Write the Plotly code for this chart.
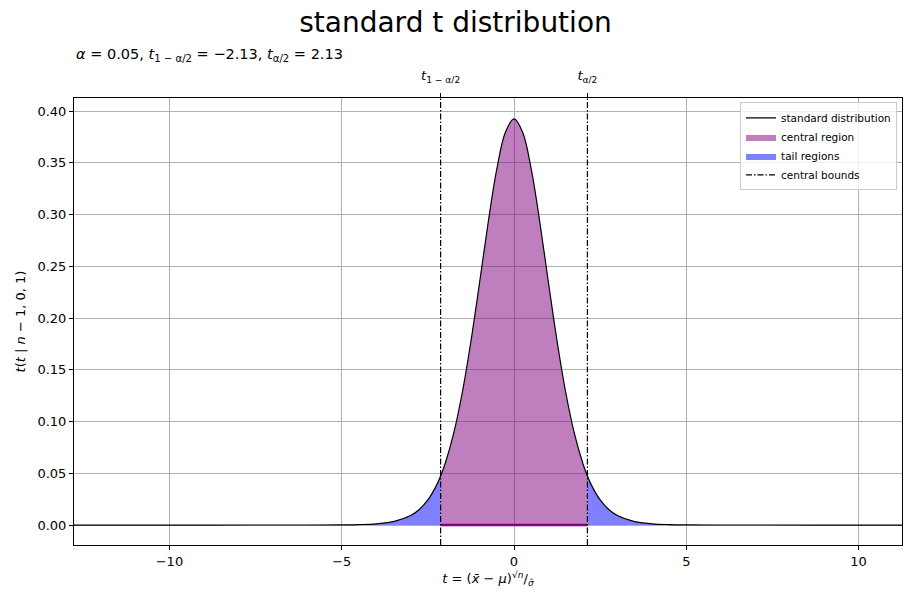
import numpy as np
import plotly.graph_objects as go

# valores (t de Student, alpha = 0.05)
t_vals = [-13, -9, -7, -6, -5, -4.5, -4, -3.5, -3, -2.75, -2.5, -2.25, -2.13,
          -2, -1.75, -1.5, -1.25, -1, -0.75, -0.5, -0.25, 0,
          0.25, 0.5, 0.75, 1, 1.25, 1.5, 1.75, 2,
          2.13, 2.25, 2.5, 2.75, 3, 3.5, 4, 4.5, 5, 6, 7, 9, 12]
pdf_vals = [0, 0, 0.00001, 0.00002, 0.00015, 0.00042, 0.00118, 0.00331, 0.00913, 0.0150, 0.0242, 0.0383, 0.0474,
            0.0592, 0.0888, 0.1283, 0.1776, 0.2341, 0.2923, 0.3438, 0.3795, 0.3924,
            0.3795, 0.3438, 0.2923, 0.2341, 0.1776, 0.1283, 0.0888, 0.0592,
            0.0474, 0.0383, 0.0242, 0.0150, 0.00913, 0.00331, 0.00118, 0.00042, 0.00015, 0.00002, 0.00001, 0, 0]
alpha = 0.05
t_low = -2.13
t_high = 2.13

x_range = [-12.77, 11.26]
y_range = [-0.0193, 0.4126]
y_ticks = [0, 0.05, 0.10, 0.15, 0.20, 0.25, 0.30, 0.35, 0.40]

t = np.array(t_vals)
p = np.array(pdf_vals)
central = (t >= t_low) & (t <= t_high)
left = t <= t_low
right = t >= t_high

fig = go.Figure()

# región central
fig.add_trace(go.Scatter(
    x=t[central], y=p[central], mode='lines', fill='tozeroy',
    fillcolor='rgba(128,0,128,0.5)', line=dict(width=0, shape='spline'),
    name='central region', legendrank=2
))
# colas
fig.add_trace(go.Scatter(
    x=t[left], y=p[left], mode='lines', fill='tozeroy',
    fillcolor='rgba(0,0,255,0.5)', line=dict(width=0, shape='spline'),
    name='tail regions', legendgroup='tails', legendrank=3
))
fig.add_trace(go.Scatter(
    x=t[right], y=p[right], mode='lines', fill='tozeroy',
    fillcolor='rgba(0,0,255,0.5)', line=dict(width=0, shape='spline'),
    name='tail regions', legendgroup='tails', showlegend=False
))
# borde inferior de la región central
fig.add_trace(go.Scatter(
    x=[t_low, t_high], y=[0, 0], mode='lines',
    line=dict(color='purple', width=2.5), showlegend=False, hoverinfo='skip'
))
# curva
fig.add_trace(go.Scatter(
    x=t, y=p, mode='lines', line=dict(color='black', width=1.2, shape='spline'),
    name='standard distribution', legendrank=1
))
# límites centrales
fig.add_trace(go.Scatter(
    x=[t_low, t_low, None, t_high, t_high],
    y=[y_range[0], y_range[1], None, y_range[0], y_range[1]],
    mode='lines', line=dict(color='black', width=1.2, dash='6px,2px,1.5px,2px'),
    name='central bounds', legendrank=4, xaxis='x2'
))

fig.update_layout(
    width=911, height=611,
    margin=dict(l=74, r=9, t=98, b=66),
    plot_bgcolor='white', paper_bgcolor='white',
    font=dict(family='DejaVu Sans', size=13, color='black'),
    title=dict(text='standard t distribution', x=0.5, xanchor='center',
               y=1 - 22 / 611, yanchor='middle', yref='container',
               font=dict(size=28)),
    showlegend=True,
    legend=dict(x=0.994, y=0.99, xanchor='right', yanchor='top',
                bgcolor='rgba(255,255,255,0.8)', bordercolor='#cccccc', borderwidth=1,
                font=dict(size=10.5), tracegroupgap=0, itemwidth=30),
    xaxis=dict(range=x_range, tickvals=[-10, -5, 0, 5, 10], automargin=False,
               showgrid=True, gridcolor='#b0b0b0', gridwidth=0.8, zeroline=False,
               showline=True, linecolor='black', linewidth=1, mirror=True,
               ticks='outside', ticklen=4, tickcolor='black',
               title=dict(text='<i>t</i> = (<i>x̄</i> − <i>μ</i>)<sup>√<i>n</i></sup>/<sub><i>σ̂</i></sub>',
                          font=dict(size=13), standoff=6)),
    xaxis2=dict(range=x_range, overlaying='x', side='top', anchor='y', automargin=False,
                tickvals=[t_low, t_high],
                ticktext=['<i>t</i><sub>1 − α/2</sub>', '<i>t</i><sub>α/2</sub>'],
                showgrid=False, zeroline=False, showline=False,
                ticks='outside', ticklen=4, tickcolor='black', tickfont=dict(size=13),
                ticklabelstandoff=8),
    yaxis=dict(range=y_range, tickvals=y_ticks, tickformat='.2f', automargin=False,
               showgrid=True, gridcolor='#b0b0b0', gridwidth=0.8, zeroline=False,
               showline=True, linecolor='black', linewidth=1, mirror=True,
               ticks='outside', ticklen=4, tickcolor='black',
               title=dict(text='<i>t</i>(<i>t</i> | <i>n</i> − 1, 0, 1)', font=dict(size=13), standoff=8)),
)

fig.add_annotation(
    text='<i>α</i> = 0.05, <i>t</i><sub>1 − α/2</sub> = −2.13, <i>t</i><sub>α/2</sub> = 2.13',
    xref='paper', yref='paper', x=0, y=(545 - 55) / 447, xanchor='left', yanchor='middle',
    showarrow=False, font=dict(size=14.5)
)

# quitar el margen del body para que la figura empiece en (0, 0)
fig.write_html("out.html", config={'displayModeBar': False},
               post_script="document.body.style.margin='0';")
